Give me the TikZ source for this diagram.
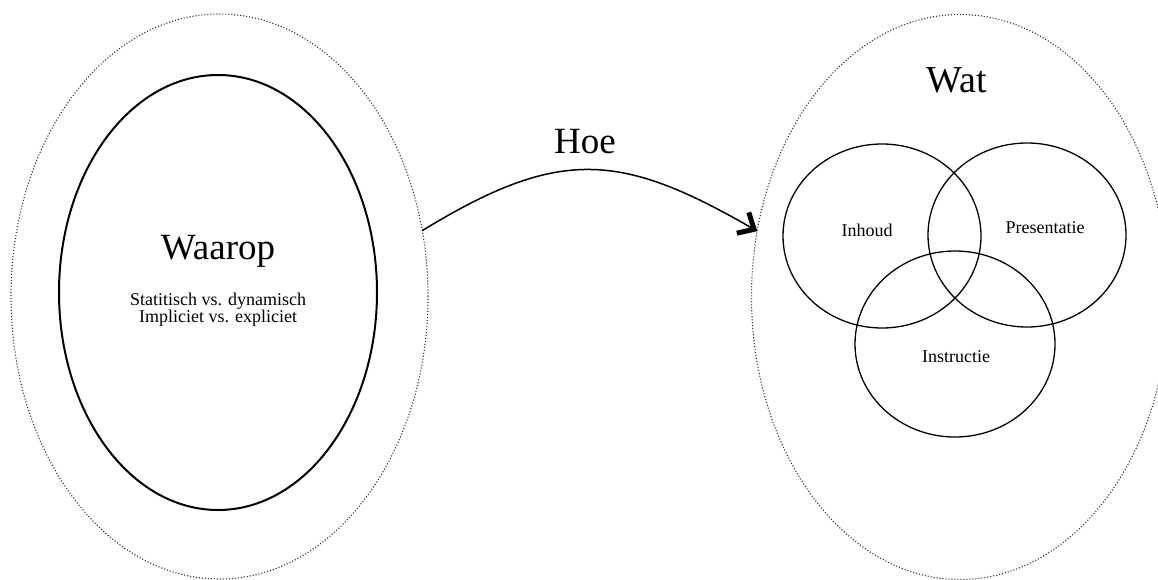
\documentclass[tikz,border=0pt]{standalone}
\usepackage{fontspec}
\setmainfont{Liberation Serif}
\usetikzlibrary{arrows.meta,shapes.geometric}
\tikzset{
  outerell/.style={ellipse, draw=black!80, line width=1.1pt, dash pattern=on 1.1pt off 1.9pt,
    minimum width=417pt, minimum height=565pt, inner sep=0pt, outer sep=0pt},
  innerell/.style={ellipse, draw, line width=2pt, minimum width=318pt, minimum height=435pt,
    inner sep=0pt, outer sep=0pt},
  venn/.style={ellipse, draw, line width=1.3pt, minimum width=198pt, minimum height=184pt,
    inner sep=0pt, outer sep=0pt},
  bigtxt/.style={font=\fontsize{37}{40}\selectfont, inner sep=0pt},
  smalltxt/.style={font=\fontsize{18}{17}\selectfont, inner sep=0pt, align=center},
  hoearrow/.style={line width=1.5pt, -{Straight Barb[length=13pt,width=24pt,line width=5pt]}}
}
\begin{document}
\begin{tikzpicture}[x=1pt,y=-1pt]
\useasboundingbox (0,0) rectangle (1158,580);
\node[outerell] (L) at (219.5,296.5) {};
\node[innerell] (Li) at (218,292.5) {};
\node[outerell] (R) at (960,297) {};
\node[venn] (inh) at (882,236) {};
\node[venn] (pres) at (1027,235) {};
\node[venn, minimum width=200pt, minimum height=186pt] (instr) at (955,344) {};
\node[bigtxt] (waarop) at (218,251) {Waarop};
\node[smalltxt] (sub) at (218,310) {Statitisch vs. dynamisch\\Impliciet vs. expliciet};
\node[bigtxt, font=\fontsize{38}{40}\selectfont] (wat) at (957,80) {Wat};
\node[bigtxt] (hoe) at (585,142) {Hoe};
\node[smalltxt] (tinh) at (867,230) {Inhoud};
\node[smalltxt] (tpres) at (1045,228) {Presentatie};
\node[smalltxt] (tinstr) at (956,357) {Instructie};
\draw[hoearrow] (L.18.4) .. controls (559,147) and (620,152) .. (R.162.2);
\end{tikzpicture}
\end{document}
